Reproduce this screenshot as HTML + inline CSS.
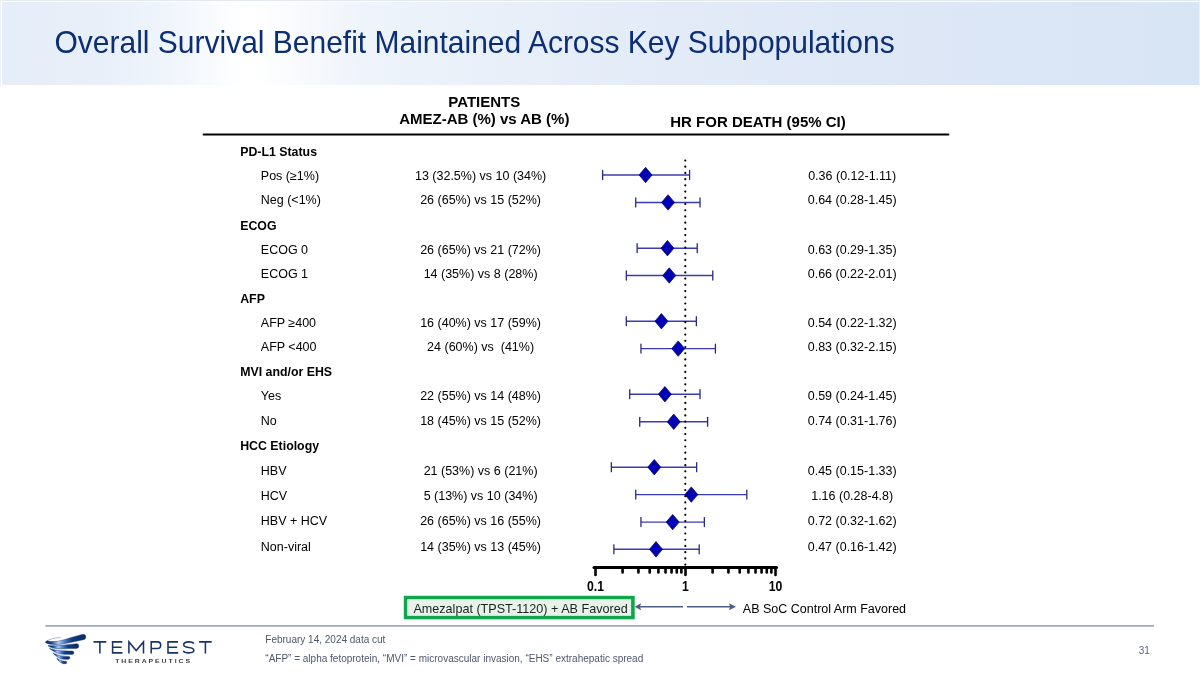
<!DOCTYPE html>
<html><head><meta charset="utf-8"><title>Overall Survival Benefit</title>
<style>
html,body{margin:0;padding:0;background:#fff;}
body{width:1200px;height:675px;position:relative;overflow:hidden;font-family:"Liberation Sans",sans-serif;}
#frame{position:absolute;left:0;top:0;width:1200px;height:1px;background:#e3e8ef;}
#framer{position:absolute;left:1199px;top:0;width:1px;height:86px;background:#e8f4fd;}
#framel{position:absolute;left:0;top:0;width:1px;height:86px;background:#eceff3;}
#band{position:absolute;left:2px;top:2px;width:1197px;height:83px;background:linear-gradient(90deg,#e5edf8 0%,#e8eff9 8%,#f0f5fc 14%,#fdfeff 19.5%,#ffffff 21%,#f8fafd 25%,#eff4fb 30%,#e9f0f9 40%,#e3ebf8 55%,#dfe8f7 70%,#dbe6f6 85%,#d8e5f5 100%);}
#title{position:absolute;left:54px;top:0;font-size:30px;color:#0c2d6b;white-space:nowrap;line-height:1;}
svg{position:absolute;left:0;top:0;will-change:transform;}
text{font-family:"Liberation Sans",sans-serif;}
.hb{font-weight:bold;font-size:15px;fill:#000;}
.lb{font-weight:bold;font-size:12.35px;fill:#000;}
.t{font-size:12.5px;fill:#000;}
.ax{font-weight:bold;font-size:14.2px;fill:#000;}
.ft{font-size:10px;fill:#4d586c;}
.pn{font-size:10px;fill:#56647c;}
.tm{font-size:16.3px;fill:#1a3a72;letter-spacing:6.8px;}
.th{font-size:5.1px;font-weight:bold;fill:#3a3a3a;}
</style></head><body>
<div id="frame"></div><div id="framel"></div><div id="framer"></div>
<div id="band"></div>
<svg width="1200" height="675" viewBox="0 0 1200 675">
<text transform="translate(54.5 52.75) scale(1 1.04)" font-size="30" fill="#0b2e74">Overall Survival Benefit Maintained Across Key Subpopulations</text>
<line x1="203.5" y1="134.5" x2="948.5" y2="134.5" stroke="#000" stroke-width="1.8" stroke-linecap="round"/><text x="484.3" y="106.7" text-anchor="middle" class="hb">PATIENTS</text><text x="484.3" y="124.4" text-anchor="middle" class="hb">AMEZ-AB (%) vs AB (%)</text><text x="758" y="126.7" text-anchor="middle" class="hb">HR FOR DEATH (95% CI)</text><text x="240.2" y="155.8" class="lb">PD-L1 Status</text><text x="260.8" y="179.7" class="t">Pos (≥1%)</text><text x="480.6" y="179.7" text-anchor="middle" class="t">13 (32.5%) vs 10 (34%)</text><text x="852.2" y="179.7" text-anchor="middle" class="t">0.36 (0.12-1.11)</text><text x="260.8" y="203.5" class="t">Neg (&lt;1%)</text><text x="480.6" y="203.5" text-anchor="middle" class="t">26 (65%) vs 15 (52%)</text><text x="852.2" y="203.5" text-anchor="middle" class="t">0.64 (0.28-1.45)</text><text x="240.2" y="230.0" class="lb">ECOG</text><text x="260.8" y="254.0" class="t">ECOG 0</text><text x="480.6" y="254.0" text-anchor="middle" class="t">26 (65%) vs 21 (72%)</text><text x="852.2" y="254.0" text-anchor="middle" class="t">0.63 (0.29-1.35)</text><text x="260.8" y="278.1" class="t">ECOG 1</text><text x="480.6" y="278.1" text-anchor="middle" class="t">14 (35%) vs 8 (28%)</text><text x="852.2" y="278.1" text-anchor="middle" class="t">0.66 (0.22-2.01)</text><text x="240.2" y="303.0" class="lb">AFP</text><text x="260.8" y="327.2" class="t">AFP ≥400</text><text x="480.6" y="327.2" text-anchor="middle" class="t">16 (40%) vs 17 (59%)</text><text x="852.2" y="327.2" text-anchor="middle" class="t">0.54 (0.22-1.32)</text><text x="260.8" y="351.4" class="t">AFP &lt;400</text><text x="480.6" y="351.4" text-anchor="middle" class="t">24 (60%) vs&#160; (41%)</text><text x="852.2" y="351.4" text-anchor="middle" class="t">0.83 (0.32-2.15)</text><text x="240.2" y="376.4" class="lb">MVI and/or EHS</text><text x="260.8" y="400.3" class="t">Yes</text><text x="480.6" y="400.3" text-anchor="middle" class="t">22 (55%) vs 14 (48%)</text><text x="852.2" y="400.3" text-anchor="middle" class="t">0.59 (0.24-1.45)</text><text x="260.8" y="424.9" class="t">No</text><text x="480.6" y="424.9" text-anchor="middle" class="t">18 (45%) vs 15 (52%)</text><text x="852.2" y="424.9" text-anchor="middle" class="t">0.74 (0.31-1.76)</text><text x="240.2" y="449.8" class="lb">HCC Etiology</text><text x="260.8" y="474.7" class="t">HBV</text><text x="480.6" y="474.7" text-anchor="middle" class="t">21 (53%) vs 6 (21%)</text><text x="852.2" y="474.7" text-anchor="middle" class="t">0.45 (0.15-1.33)</text><text x="260.8" y="499.8" class="t">HCV</text><text x="480.6" y="499.8" text-anchor="middle" class="t">5 (13%) vs 10 (34%)</text><text x="852.2" y="499.8" text-anchor="middle" class="t">1.16 (0.28-4.8)</text><text x="260.8" y="525.2" class="t">HBV + HCV</text><text x="480.6" y="525.2" text-anchor="middle" class="t">26 (65%) vs 16 (55%)</text><text x="852.2" y="525.2" text-anchor="middle" class="t">0.72 (0.32-1.62)</text><text x="260.8" y="550.6" class="t">Non-viral</text><text x="480.6" y="550.6" text-anchor="middle" class="t">14 (35%) vs 13 (45%)</text><text x="852.2" y="550.6" text-anchor="middle" class="t">0.47 (0.16-1.42)</text><g stroke="#3c3cb2" stroke-width="1.45" fill="none"><line x1="602.63" y1="175.0" x2="689.58" y2="175.0"/><line x1="635.74" y1="202.4" x2="700.02" y2="202.4"/><line x1="637.12" y1="248.2" x2="697.23" y2="248.2"/><line x1="626.32" y1="275.5" x2="712.79" y2="275.5"/><line x1="626.32" y1="321.2" x2="696.35" y2="321.2"/><line x1="640.96" y1="348.6" x2="715.42" y2="348.6"/><line x1="629.72" y1="394.2" x2="700.02" y2="394.2"/><line x1="639.72" y1="421.8" x2="707.60" y2="421.8"/><line x1="611.35" y1="467.2" x2="696.65" y2="467.2"/><line x1="635.74" y1="494.6" x2="746.81" y2="494.6"/><line x1="640.96" y1="522.1" x2="704.36" y2="522.1"/><line x1="613.87" y1="549.3" x2="699.21" y2="549.3"/></g><g stroke="#2a2a80" stroke-width="1.3" fill="none" stroke-linecap="round"><line x1="602.63" y1="170.50" x2="602.63" y2="179.50"/><line x1="689.58" y1="170.50" x2="689.58" y2="179.50"/><line x1="635.74" y1="197.90" x2="635.74" y2="206.90"/><line x1="700.02" y1="197.90" x2="700.02" y2="206.90"/><line x1="637.12" y1="243.70" x2="637.12" y2="252.70"/><line x1="697.23" y1="243.70" x2="697.23" y2="252.70"/><line x1="626.32" y1="271.00" x2="626.32" y2="280.00"/><line x1="712.79" y1="271.00" x2="712.79" y2="280.00"/><line x1="626.32" y1="316.70" x2="626.32" y2="325.70"/><line x1="696.35" y1="316.70" x2="696.35" y2="325.70"/><line x1="640.96" y1="344.10" x2="640.96" y2="353.10"/><line x1="715.42" y1="344.10" x2="715.42" y2="353.10"/><line x1="629.72" y1="389.70" x2="629.72" y2="398.70"/><line x1="700.02" y1="389.70" x2="700.02" y2="398.70"/><line x1="639.72" y1="417.30" x2="639.72" y2="426.30"/><line x1="707.60" y1="417.30" x2="707.60" y2="426.30"/><line x1="611.35" y1="462.70" x2="611.35" y2="471.70"/><line x1="696.65" y1="462.70" x2="696.65" y2="471.70"/><line x1="635.74" y1="490.10" x2="635.74" y2="499.10"/><line x1="746.81" y1="490.10" x2="746.81" y2="499.10"/><line x1="640.96" y1="517.60" x2="640.96" y2="526.60"/><line x1="704.36" y1="517.60" x2="704.36" y2="526.60"/><line x1="613.87" y1="544.80" x2="613.87" y2="553.80"/><line x1="699.21" y1="544.80" x2="699.21" y2="553.80"/></g><g fill="#0000b6" stroke="#00005c" stroke-width="0.7" stroke-linejoin="miter"><path d="M639.07 175.0 L645.57 167.30 L652.07 175.0 L645.57 182.70Z"/><path d="M661.56 202.4 L668.06 194.70 L674.56 202.4 L668.06 210.10Z"/><path d="M660.94 248.2 L667.44 240.50 L673.94 248.2 L667.44 255.90Z"/><path d="M662.76 275.5 L669.26 267.80 L675.76 275.5 L669.26 283.20Z"/><path d="M654.92 321.2 L661.42 313.50 L667.92 321.2 L661.42 328.90Z"/><path d="M671.72 348.6 L678.22 340.90 L684.72 348.6 L678.22 356.30Z"/><path d="M658.38 394.2 L664.88 386.50 L671.38 394.2 L664.88 401.90Z"/><path d="M667.23 421.8 L673.73 414.10 L680.23 421.8 L673.73 429.50Z"/><path d="M647.79 467.2 L654.29 459.50 L660.79 467.2 L654.29 474.90Z"/><path d="M684.80 494.6 L691.30 486.90 L697.80 494.6 L691.30 502.30Z"/><path d="M666.16 522.1 L672.66 514.40 L679.16 522.1 L672.66 529.80Z"/><path d="M649.49 549.3 L655.99 541.60 L662.49 549.3 L655.99 557.00Z"/></g><g fill="#000"><circle cx="685.3" cy="160.50" r="1.1"/><circle cx="685.3" cy="166.72" r="1.1"/><circle cx="685.3" cy="172.93" r="1.1"/><circle cx="685.3" cy="179.15" r="1.1"/><circle cx="685.3" cy="185.37" r="1.1"/><circle cx="685.3" cy="191.59" r="1.1"/><circle cx="685.3" cy="197.80" r="1.1"/><circle cx="685.3" cy="204.02" r="1.1"/><circle cx="685.3" cy="210.24" r="1.1"/><circle cx="685.3" cy="216.45" r="1.1"/><circle cx="685.3" cy="222.67" r="1.1"/><circle cx="685.3" cy="228.89" r="1.1"/><circle cx="685.3" cy="235.10" r="1.1"/><circle cx="685.3" cy="241.32" r="1.1"/><circle cx="685.3" cy="247.54" r="1.1"/><circle cx="685.3" cy="253.76" r="1.1"/><circle cx="685.3" cy="259.97" r="1.1"/><circle cx="685.3" cy="266.19" r="1.1"/><circle cx="685.3" cy="272.41" r="1.1"/><circle cx="685.3" cy="278.62" r="1.1"/><circle cx="685.3" cy="284.84" r="1.1"/><circle cx="685.3" cy="291.06" r="1.1"/><circle cx="685.3" cy="297.27" r="1.1"/><circle cx="685.3" cy="303.49" r="1.1"/><circle cx="685.3" cy="309.71" r="1.1"/><circle cx="685.3" cy="315.93" r="1.1"/><circle cx="685.3" cy="322.14" r="1.1"/><circle cx="685.3" cy="328.36" r="1.1"/><circle cx="685.3" cy="334.58" r="1.1"/><circle cx="685.3" cy="340.79" r="1.1"/><circle cx="685.3" cy="347.01" r="1.1"/><circle cx="685.3" cy="353.23" r="1.1"/><circle cx="685.3" cy="359.44" r="1.1"/><circle cx="685.3" cy="365.66" r="1.1"/><circle cx="685.3" cy="371.88" r="1.1"/><circle cx="685.3" cy="378.09" r="1.1"/><circle cx="685.3" cy="384.31" r="1.1"/><circle cx="685.3" cy="390.53" r="1.1"/><circle cx="685.3" cy="396.75" r="1.1"/><circle cx="685.3" cy="402.96" r="1.1"/><circle cx="685.3" cy="409.18" r="1.1"/><circle cx="685.3" cy="415.40" r="1.1"/><circle cx="685.3" cy="421.61" r="1.1"/><circle cx="685.3" cy="427.83" r="1.1"/><circle cx="685.3" cy="434.05" r="1.1"/><circle cx="685.3" cy="440.26" r="1.1"/><circle cx="685.3" cy="446.48" r="1.1"/><circle cx="685.3" cy="452.70" r="1.1"/><circle cx="685.3" cy="458.92" r="1.1"/><circle cx="685.3" cy="465.13" r="1.1"/><circle cx="685.3" cy="471.35" r="1.1"/><circle cx="685.3" cy="477.57" r="1.1"/><circle cx="685.3" cy="483.78" r="1.1"/><circle cx="685.3" cy="490.00" r="1.1"/><circle cx="685.3" cy="496.22" r="1.1"/><circle cx="685.3" cy="502.43" r="1.1"/><circle cx="685.3" cy="508.65" r="1.1"/><circle cx="685.3" cy="514.87" r="1.1"/><circle cx="685.3" cy="521.09" r="1.1"/><circle cx="685.3" cy="527.30" r="1.1"/><circle cx="685.3" cy="533.52" r="1.1"/><circle cx="685.3" cy="539.74" r="1.1"/><circle cx="685.3" cy="545.95" r="1.1"/><circle cx="685.3" cy="552.17" r="1.1"/><circle cx="685.3" cy="558.39" r="1.1"/><circle cx="685.3" cy="564.60" r="1.1"/></g><g stroke="#000" stroke-width="2.6" stroke-linecap="round"><line x1="594" y1="567.5" x2="776.5" y2="567.5" stroke-width="3"/><line x1="595.50" y1="567.5" x2="595.50" y2="575"/><line x1="622.59" y1="567.5" x2="622.59" y2="572.5"/><line x1="638.44" y1="567.5" x2="638.44" y2="572.5"/><line x1="649.69" y1="567.5" x2="649.69" y2="572.5"/><line x1="658.41" y1="567.5" x2="658.41" y2="572.5"/><line x1="665.53" y1="567.5" x2="665.53" y2="572.5"/><line x1="671.56" y1="567.5" x2="671.56" y2="572.5"/><line x1="676.78" y1="567.5" x2="676.78" y2="572.5"/><line x1="681.38" y1="567.5" x2="681.38" y2="572.5"/><line x1="685.50" y1="567.5" x2="685.50" y2="575"/><line x1="712.59" y1="567.5" x2="712.59" y2="572.5"/><line x1="728.44" y1="567.5" x2="728.44" y2="572.5"/><line x1="739.69" y1="567.5" x2="739.69" y2="572.5"/><line x1="748.41" y1="567.5" x2="748.41" y2="572.5"/><line x1="755.53" y1="567.5" x2="755.53" y2="572.5"/><line x1="761.56" y1="567.5" x2="761.56" y2="572.5"/><line x1="766.78" y1="567.5" x2="766.78" y2="572.5"/><line x1="771.38" y1="567.5" x2="771.38" y2="572.5"/><line x1="775.50" y1="567.5" x2="775.50" y2="575"/></g><text transform="translate(595.50 590.6) scale(0.86 1)" text-anchor="middle" class="ax">0.1</text><text transform="translate(685.50 590.6) scale(0.86 1)" text-anchor="middle" class="ax">1</text><text transform="translate(775.50 590.6) scale(0.86 1)" text-anchor="middle" class="ax">10</text><rect x="405.6" y="597.6" width="227.3" height="19.9" fill="#e8f2e9" stroke="#10a54b" stroke-width="3.6"/><rect x="407.9" y="599.9" width="222.7" height="15.3" fill="none" stroke="#d2f3dc" stroke-width="0.9"/><text x="413.4" y="612.6" class="t" style="font-size:12.6px;fill:#1a221c">Amezalpat (TPST-1120) + AB Favored</text><text x="742.8" y="612.7" class="t">AB SoC Control Arm Favored</text><g stroke="#4c5d86" stroke-width="1.6"><line x1="640" y1="606.8" x2="683" y2="606.8"/><line x1="687" y1="606.8" x2="730" y2="606.8"/></g><g fill="#4c5d86"><path d="M634.7 606.8 L641 603.3 L640 606.8 L641 610.3Z"/><path d="M736 606.8 L729 603.3 L730 606.8 L729 610.3Z"/></g><line x1="45.4" y1="625.8" x2="1154" y2="625.8" stroke="#9eaac0" stroke-width="1.7"/><text x="265.3" y="642.6" class="ft">February 14, 2024 data cut</text><text x="265.3" y="661.5" class="ft">“AFP” = alpha fetoprotein, “MVI” = microvascular invasion, “EHS” extrahepatic spread</text><text x="1144.3" y="653.7" text-anchor="middle" class="pn">31</text>
<defs>
<linearGradient id="lg" x1="0" y1="0" x2="1" y2="0">
<stop offset="0" stop-color="#0a2a68"/><stop offset="0.15" stop-color="#163f88"/><stop offset="0.33" stop-color="#b3d0f6"/><stop offset="0.48" stop-color="#4f7cc4"/><stop offset="0.65" stop-color="#123b84"/><stop offset="1" stop-color="#0a2a68"/>
</linearGradient>
</defs>
<filter id="bl" x="-20%" y="-20%" width="140%" height="140%"><feGaussianBlur stdDeviation="1.2"/></filter><path d="M48 644 L68 643.5 L66 656 L61 661 L56 657 L51 650 Z" fill="#cfe1f8" filter="url(#bl)"/>
<path d="M46.5 641.2 C50 639 54 637.8 60.5 637.6" fill="none" stroke="#6a7790" stroke-width="0.8" stroke-opacity="0.7"/>
<g fill="url(#lg)" stroke="#0b2d6e" stroke-width="0.5" stroke-opacity="0.85">
<path d="M45.2 642.3 C47 644 51 644.6 56 644.5 C64 644.2 74 641.5 83 639.8 A2.8 2.8 0 0 0 83 634.2 C75 636 66 639.6 58 641.2 C53 641.9 49 641.6 47.2 640.8 C46.3 641.2 45.6 641.7 45.2 642.3Z"/>
<path d="M48 645.6 C49.5 647 52 648 57 648.4 L76.5 648.4 A2.35 2.35 0 0 0 76.5 643.7 C72 644.2 64 645.3 58 645.7 C54 645.9 50.5 645.9 48 645.6Z"/>
<path d="M49.4 648.3 C53 651 57 653.6 64 654.2 L72.2 654.4 A1.7 1.7 0 0 0 72.2 651 L64 651 C57 650.8 52 649.8 49.4 648.3Z"/>
<path d="M53.2 653.2 C56 656 59 658.6 63.5 659.2 L68.45 659.3 A1.45 1.45 0 0 0 68.45 656.4 L64 656.4 C59.5 656 56 654.8 53.2 653.2Z"/>
<path d="M56.8 658.3 C58.5 661 60.5 663 63.5 663.7 L65.5 663.7 A1.2 1.2 0 0 0 65.5 661.3 L64 661.3 C61 660.8 58.5 659.8 56.8 658.3Z"/>
</g>
<g fill="none" stroke="#183466" stroke-width="1.55" stroke-linejoin="miter" stroke-miterlimit="3">
<path d="M93.5 641.85H106.3M99.9 641.1V653.6"/>
<path d="M112.6 641.1V653.6M111.9 641.85H122.3M111.9 647.3H121.6M111.9 652.85H122.5"/>
<path d="M128.9 653.6V641.9L136.2 650.6L143.5 641.9V653.6"/>
<path d="M151.2 653.6V641.1M150.5 641.85H157.4A3.3 3.3 0 0 1 157.4 648.45H150.5"/>
<path d="M168 641.1V653.6M167.3 641.85H178M167.3 647.3H177.2M167.3 652.85H178.2"/>
<path d="M193.9 643.7C193 642.3 191 641.85 188.7 641.85C185.6 641.85 183.7 643 183.7 644.8C183.7 646.7 185.6 647.1 188.7 647.5C192 647.9 193.9 648.8 193.9 650.6C193.9 652.3 191.8 652.85 188.7 652.85C186 652.85 184.2 652.3 183.2 651"/>
<path d="M199.1 641.85H211.7M205.4 641.1V653.6"/>
</g><text transform="translate(115.2 662.6) scale(1.35 1)" class="th" textLength="55.4" lengthAdjust="spacing">THERAPEUTICS</text>
</svg>
</body></html>
